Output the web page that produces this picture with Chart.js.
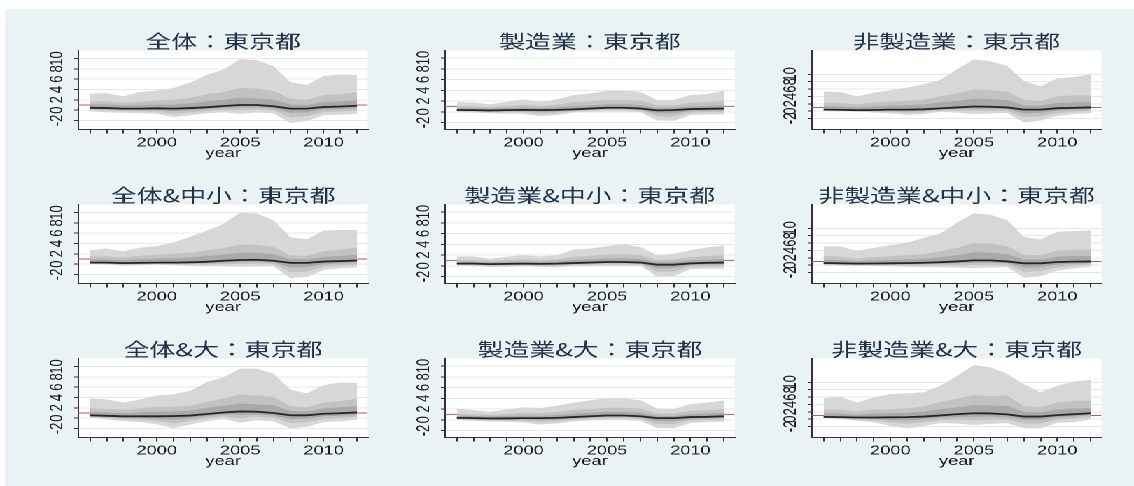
<!DOCTYPE html>
<html lang="ja">
<head>
<meta charset="utf-8">
<title>東京都 業種別・規模別 ファンチャート</title>
<script src="https://cdn.jsdelivr.net/npm/chart.js@4.4.1/dist/chart.umd.min.js"></script>
<style>
  html, body { margin: 0; padding: 0; background: #ffffff; width: 1134px; height: 486px; overflow: hidden; }
  #backdrop { position: absolute; left: 5px; top: 9px; width: 1129px; height: 477px; background: #eaf2f3; }
  #stage { position: absolute; left: 0; top: 0; width: 810px; height: 486px; transform: scaleX(1.4); transform-origin: 0 0; }
  #stage canvas { position: absolute; }
</style>
</head>
<body>
<div id="backdrop"></div>
<div id="stage"></div>
<script>
// ---- axes ----
const years = [1996, 1997, 1998, 1999, 2000, 2001, 2002, 2003, 2004, 2005, 2006, 2007, 2008, 2009, 2010, 2011, 2012];
const yTickValues = [-2, 0, 2, 4, 6, 8, 10];
const xLabelYears = [2000, 2005, 2010];
const refLevel = 1;
const xMin = 1995.3, xMax = 2012.65;

// ---- 全体：東京都 ----
const allMid      = [0.45, 0.40, 0.30, 0.30, 0.35, 0.30, 0.40, 0.55, 0.80, 1.00, 1.00, 0.75, 0.30, 0.30, 0.60, 0.70, 0.85];
const allInnerLo  = [0.24, 0.16, 0.06, 0.03, 0.04, -0.20, -0.02, 0.21, 0.44, 0.49, 0.57, 0.35, -0.54, -0.42, 0.12, 0.22, 0.39];
const allInnerHi  = [1.1, 1.1, 0.9, 1.0, 1.1, 1.1, 1.3, 1.7, 2.0, 2.4, 2.3, 2.0, 1.1, 1.0, 1.6, 1.7, 1.9];
const allMiddleLo = [0.03, -0.08, -0.18, -0.24, -0.28, -0.69, -0.44, -0.14, 0.08, -0.02, 0.13, -0.06, -1.38, -1.14, -0.36, -0.26, -0.08];
const allMiddleHi = [1.7, 1.7, 1.4, 1.6, 1.9, 2.0, 2.4, 3.1, 3.5, 4.3, 4.2, 3.7, 2.2, 2.0, 2.9, 3.1, 3.5];
const allOuterLo  = [-0.25, -0.40, -0.50, -0.60, -0.70, -1.35, -1.00, -0.60, -0.40, -0.70, -0.45, -0.60, -2.50, -2.10, -1.00, -0.90, -0.70];
const allOuterHi  = [3.2, 3.3, 2.7, 3.5, 3.8, 4.3, 5.3, 6.8, 7.9, 9.9, 9.7, 8.5, 5.4, 4.9, 6.6, 6.9, 6.8];

// ---- 製造業：東京都 ----
const mfgMid      = [0.33, 0.30, 0.25, 0.30, 0.35, 0.30, 0.35, 0.45, 0.60, 0.75, 0.75, 0.60, 0.26, 0.30, 0.50, 0.55, 0.60];
const mfgInnerLo  = [0.23, 0.17, 0.09, 0.11, 0.13, -0.03, 0.07, 0.27, 0.42, 0.56, 0.56, 0.39, -0.30, -0.30, 0.17, 0.24, 0.27];
const mfgInnerHi  = [0.7, 0.65, 0.6, 0.7, 0.8, 0.7, 0.8, 1.05, 1.2, 1.4, 1.4, 1.25, 0.7, 0.75, 1.0, 1.1, 1.2];
const mfgMiddleLo = [0.13, 0.03, -0.08, -0.09, -0.10, -0.36, -0.22, 0.09, 0.24, 0.36, 0.36, 0.18, -0.86, -0.90, -0.16, -0.08, -0.06];
const mfgMiddleHi = [1.1, 1.0, 0.9, 1.1, 1.3, 1.1, 1.3, 1.8, 1.9, 2.2, 2.2, 2.1, 1.2, 1.2, 1.7, 1.8, 2.0];
const mfgOuterLo  = [0.00, -0.15, -0.30, -0.35, -0.40, -0.80, -0.60, -0.15, 0.00, 0.10, 0.10, -0.10, -1.60, -1.70, -0.60, -0.50, -0.50];
const mfgOuterHi  = [1.85, 1.7, 1.4, 1.85, 2.3, 1.85, 2.3, 3.1, 3.4, 3.9, 3.9, 3.7, 2.2, 2.2, 3.1, 3.3, 3.9];

// ---- 非製造業：東京都 ----
const nonMfgMid      = [0.40, 0.35, 0.25, 0.30, 0.40, 0.40, 0.50, 0.75, 1.00, 1.25, 1.20, 1.00, 0.40, 0.40, 0.80, 0.90, 1.00];
const nonMfgInnerLo  = [0.31, 0.25, 0.15, 0.09, 0.09, -0.02, 0.11, 0.47, 0.58, 0.64, 0.65, 0.55, -0.65, -0.50, 0.17, 0.39, 0.55];
const nonMfgInnerHi  = [1.3, 1.25, 1.05, 1.3, 1.5, 1.6, 1.8, 2.4, 2.8, 3.4, 3.3, 3.0, 1.6, 1.5, 2.2, 2.4, 2.5];
const nonMfgMiddleLo = [0.22, 0.14, 0.04, -0.12, -0.23, -0.44, -0.28, 0.18, 0.16, 0.02, 0.09, 0.10, -1.70, -1.40, -0.46, -0.12, 0.10];
const nonMfgMiddleHi = [2.3, 2.2, 1.9, 2.3, 2.6, 2.8, 3.1, 4.1, 4.8, 5.9, 5.75, 5.3, 3.05, 2.8, 4.0, 4.3, 4.3];
const nonMfgOuterLo  = [0.10, 0.00, -0.10, -0.40, -0.65, -1.00, -0.80, -0.20, -0.40, -0.80, -0.65, -0.50, -3.10, -2.60, -1.30, -0.80, -0.50];
const nonMfgOuterHi  = [5.3, 5.2, 4.0, 5.0, 5.7, 6.4, 7.3, 8.5, 11.35, 14.1, 13.6, 12.3, 8.2, 6.8, 8.9, 9.3, 10.0];

// ---- 全体&中小：東京都 ----
const allSmeMid      = [0.30, 0.30, 0.20, 0.25, 0.30, 0.30, 0.35, 0.45, 0.65, 0.80, 0.85, 0.65, 0.25, 0.25, 0.50, 0.60, 0.70];
const allSmeInnerLo  = [0.21, 0.18, 0.05, 0.12, 0.17, 0.14, 0.14, 0.20, 0.34, 0.41, 0.46, 0.34, -0.64, -0.58, 0.02, 0.18, 0.31];
const allSmeInnerHi  = [0.95, 0.95, 0.8, 1.0, 1.1, 1.15, 1.3, 1.6, 1.85, 2.2, 2.2, 1.9, 1.0, 0.95, 1.4, 1.6, 1.8];
const allSmeMiddleLo = [0.12, 0.06, -0.10, -0.02, 0.03, -0.03, -0.07, -0.06, 0.02, 0.02, 0.07, 0.02, -1.52, -1.40, -0.46, -0.24, -0.08];
const allSmeMiddleHi = [1.5, 1.5, 1.3, 1.6, 1.85, 2.0, 2.2, 2.65, 3.1, 3.8, 3.7, 3.3, 1.7, 1.6, 2.5, 2.8, 3.2];
const allSmeOuterLo  = [0.00, -0.10, -0.30, -0.20, -0.15, -0.25, -0.35, -0.40, -0.40, -0.50, -0.45, -0.40, -2.70, -2.50, -1.10, -0.80, -0.60];
const allSmeOuterHi  = [2.7, 3.0, 2.5, 3.2, 3.5, 4.2, 5.3, 6.5, 7.8, 10.0, 9.8, 8.5, 5.2, 4.8, 6.5, 6.6, 6.6];

// ---- 製造業&中小：東京都 ----
const mfgSmeMid      = [0.40, 0.40, 0.30, 0.35, 0.40, 0.35, 0.40, 0.50, 0.60, 0.70, 0.70, 0.60, 0.20, 0.20, 0.45, 0.55, 0.60];
const mfgSmeInnerLo  = [0.30, 0.28, 0.14, 0.19, 0.25, 0.17, 0.21, 0.32, 0.41, 0.49, 0.49, 0.44, -0.46, -0.45, 0.14, 0.22, 0.26];
const mfgSmeInnerHi  = [0.75, 0.75, 0.6, 0.7, 0.8, 0.7, 0.8, 1.1, 1.2, 1.35, 1.4, 1.25, 0.65, 0.7, 1.0, 1.15, 1.25];
const mfgSmeMiddleLo = [0.20, 0.16, -0.03, 0.02, 0.10, -0.01, 0.01, 0.14, 0.21, 0.28, 0.28, 0.27, -1.12, -1.09, -0.18, -0.11, -0.09];
const mfgSmeMiddleHi = [1.1, 1.1, 0.9, 1.1, 1.2, 1.1, 1.2, 1.7, 1.85, 2.1, 2.2, 2.0, 1.1, 1.2, 1.6, 1.8, 2.0];
const mfgSmeOuterLo  = [0.06, 0.00, -0.25, -0.20, -0.10, -0.25, -0.25, -0.10, -0.05, 0.00, 0.00, 0.05, -2.00, -1.95, -0.60, -0.55, -0.55];
const mfgSmeOuterHi  = [1.75, 1.75, 1.3, 1.7, 1.95, 1.75, 1.95, 3.0, 3.2, 3.65, 4.0, 3.5, 1.95, 2.25, 2.9, 3.4, 3.8];

// ---- 非製造業&中小：東京都 ----
const nonMfgSmeMid      = [0.57, 0.50, 0.40, 0.45, 0.50, 0.55, 0.65, 0.80, 1.00, 1.30, 1.30, 1.00, 0.50, 0.50, 0.85, 0.95, 1.00];
const nonMfgSmeInnerLo  = [0.37, 0.31, 0.22, 0.23, 0.25, 0.25, 0.29, 0.38, 0.51, 0.67, 0.72, 0.55, -0.67, -0.55, 0.15, 0.40, 0.58];
const nonMfgSmeInnerHi  = [1.4, 1.35, 1.1, 1.3, 1.4, 1.55, 1.75, 2.2, 2.7, 3.5, 3.4, 3.0, 1.6, 1.5, 2.3, 2.5, 2.5];
const nonMfgSmeMiddleLo = [0.17, 0.11, 0.04, 0.00, -0.01, -0.05, -0.07, -0.04, 0.01, 0.04, 0.13, 0.10, -1.84, -1.60, -0.56, -0.16, 0.16];
const nonMfgSmeMiddleHi = [2.4, 2.3, 1.75, 2.2, 2.4, 2.7, 3.0, 3.8, 4.7, 6.1, 5.9, 5.15, 2.85, 2.7, 3.95, 4.2, 4.2];
const nonMfgSmeOuterLo  = [-0.10, -0.15, -0.20, -0.30, -0.35, -0.45, -0.55, -0.60, -0.65, -0.80, -0.65, -0.50, -3.40, -3.00, -1.50, -0.90, -0.40];
const nonMfgSmeOuterHi  = [5.15, 5.1, 3.8, 4.7, 5.4, 6.1, 7.4, 8.6, 11.6, 14.1, 13.7, 12.2, 7.7, 7.0, 9.1, 9.3, 9.45];

// ---- 全体&大：東京都 ----
const allLargeMid      = [0.55, 0.45, 0.35, 0.35, 0.35, 0.40, 0.50, 0.80, 1.10, 1.30, 1.25, 1.00, 0.55, 0.55, 0.85, 0.95, 1.10];
const allLargeInnerLo  = [0.40, 0.24, 0.07, 0.02, -0.12, -0.31, -0.01, 0.38, 0.73, 0.64, 0.76, 0.52, -0.20, -0.13, 0.37, 0.49, 0.68];
const allLargeInnerHi  = [1.2, 1.1, 0.95, 1.1, 1.25, 1.3, 1.45, 2.0, 2.4, 2.8, 2.7, 2.5, 1.4, 1.3, 1.9, 2.1, 2.4];
const allLargeMiddleLo = [0.25, 0.03, -0.22, -0.31, -0.58, -1.01, -0.52, -0.04, 0.35, -0.02, 0.26, 0.04, -0.95, -0.80, -0.11, 0.02, 0.26];
const allLargeMiddleHi = [1.9, 1.8, 1.6, 1.9, 2.2, 2.2, 2.4, 3.15, 3.8, 4.6, 4.4, 4.1, 2.35, 2.1, 3.0, 3.3, 3.8];
const allLargeOuterLo  = [0.05, -0.25, -0.60, -0.75, -1.20, -1.95, -1.20, -0.60, -0.15, -0.90, -0.40, -0.60, -1.95, -1.70, -0.75, -0.60, -0.30];
const allLargeOuterHi  = [3.8, 3.6, 3.0, 3.6, 4.4, 4.6, 5.3, 7.0, 7.9, 9.6, 9.6, 8.6, 5.5, 4.8, 6.4, 6.9, 6.8];

// ---- 製造業&大：東京都 ----
const mfgLargeMid      = [0.35, 0.30, 0.25, 0.25, 0.30, 0.30, 0.35, 0.50, 0.65, 0.80, 0.80, 0.65, 0.30, 0.30, 0.50, 0.55, 0.65];
const mfgLargeInnerLo  = [0.23, 0.15, 0.07, 0.06, 0.06, -0.06, 0.04, 0.26, 0.43, 0.56, 0.56, 0.40, -0.24, -0.27, 0.17, 0.25, 0.35];
const mfgLargeInnerHi  = [0.75, 0.7, 0.6, 0.7, 0.8, 0.75, 0.9, 1.15, 1.3, 1.5, 1.5, 1.3, 0.75, 0.7, 1.05, 1.15, 1.25];
const mfgLargeMiddleLo = [0.11, 0.00, -0.11, -0.14, -0.18, -0.42, -0.28, 0.02, 0.20, 0.32, 0.32, 0.14, -0.78, -0.84, -0.16, -0.05, 0.05];
const mfgLargeMiddleHi = [1.15, 1.05, 0.9, 1.1, 1.3, 1.25, 1.45, 1.85, 2.0, 2.25, 2.25, 2.05, 1.2, 1.15, 1.65, 1.8, 2.0];
const mfgLargeOuterLo  = [-0.05, -0.20, -0.35, -0.40, -0.50, -0.90, -0.70, -0.30, -0.10, 0.00, 0.00, -0.20, -1.50, -1.60, -0.60, -0.45, -0.35];
const mfgLargeOuterHi  = [2.0, 1.8, 1.5, 1.9, 2.3, 2.2, 2.6, 3.2, 3.6, 4.0, 4.0, 3.6, 2.1, 2.0, 2.9, 3.2, 3.6];

// ---- 非製造業&大：東京都 ----
const nonMfgLargeMid      = [0.60, 0.55, 0.45, 0.45, 0.50, 0.55, 0.70, 1.00, 1.35, 1.60, 1.55, 1.30, 0.70, 0.70, 1.10, 1.35, 1.60];
const nonMfgLargeInnerLo  = [0.56, 0.39, 0.18, 0.05, -0.19, -0.37, -0.05, 0.37, 0.59, 0.64, 0.70, 0.58, -0.25, -0.26, 0.47, 0.71, 1.09];
const nonMfgLargeInnerHi  = [1.6, 1.5, 1.2, 1.5, 1.6, 1.75, 2.0, 2.7, 3.2, 3.8, 3.7, 3.6, 2.0, 1.8, 2.6, 2.9, 3.0];
const nonMfgLargeMiddleLo = [0.51, 0.22, -0.09, -0.36, -0.88, -1.28, -0.80, -0.26, -0.18, -0.32, -0.16, -0.14, -1.19, -1.22, -0.16, 0.06, 0.58];
const nonMfgLargeMiddleHi = [2.7, 2.6, 2.0, 2.6, 2.7, 2.9, 3.45, 4.7, 5.6, 6.5, 6.3, 6.4, 3.6, 3.2, 4.5, 5.0, 5.0];
const nonMfgLargeOuterLo  = [0.45, 0.00, -0.45, -0.90, -1.80, -2.50, -1.80, -1.10, -1.20, -1.60, -1.30, -1.10, -2.45, -2.50, -1.00, -0.80, -0.10];
const nonMfgLargeOuterHi  = [5.7, 6.1, 4.5, 5.9, 6.8, 7.0, 7.3, 9.1, 11.8, 14.7, 14.1, 12.3, 9.5, 7.3, 9.1, 10.2, 10.7];

// ---- value-axis ranges per column ----
const yRangeAll = [-3.75, 11.55];
const yRangeMfg = [-3.3, 11.4];
const yRangeNonMfg = [-5.0, 16.5];

// ---- panel table ----
const panels = [
  { title: '全体：東京都',          row: 0, col: 0, range: yRangeAll,    mid: allMid,         inner: [allInnerLo, allInnerHi],               middle: [allMiddleLo, allMiddleHi],               outer: [allOuterLo, allOuterHi] },
  { title: '製造業：東京都',        row: 0, col: 1, range: yRangeMfg,    mid: mfgMid,         inner: [mfgInnerLo, mfgInnerHi],               middle: [mfgMiddleLo, mfgMiddleHi],               outer: [mfgOuterLo, mfgOuterHi] },
  { title: '非製造業：東京都',      row: 0, col: 2, range: yRangeNonMfg, mid: nonMfgMid,      inner: [nonMfgInnerLo, nonMfgInnerHi],         middle: [nonMfgMiddleLo, nonMfgMiddleHi],         outer: [nonMfgOuterLo, nonMfgOuterHi] },
  { title: '全体&中小：東京都',     row: 1, col: 0, range: yRangeAll,    mid: allSmeMid,      inner: [allSmeInnerLo, allSmeInnerHi],         middle: [allSmeMiddleLo, allSmeMiddleHi],         outer: [allSmeOuterLo, allSmeOuterHi] },
  { title: '製造業&中小：東京都',   row: 1, col: 1, range: yRangeMfg,    mid: mfgSmeMid,      inner: [mfgSmeInnerLo, mfgSmeInnerHi],         middle: [mfgSmeMiddleLo, mfgSmeMiddleHi],         outer: [mfgSmeOuterLo, mfgSmeOuterHi] },
  { title: '非製造業&中小：東京都', row: 1, col: 2, range: yRangeNonMfg, mid: nonMfgSmeMid,   inner: [nonMfgSmeInnerLo, nonMfgSmeInnerHi],   middle: [nonMfgSmeMiddleLo, nonMfgSmeMiddleHi],   outer: [nonMfgSmeOuterLo, nonMfgSmeOuterHi] },
  { title: '全体&大：東京都',       row: 2, col: 0, range: yRangeAll,    mid: allLargeMid,    inner: [allLargeInnerLo, allLargeInnerHi],     middle: [allLargeMiddleLo, allLargeMiddleHi],     outer: [allLargeOuterLo, allLargeOuterHi] },
  { title: '製造業&大：東京都',     row: 2, col: 1, range: yRangeMfg,    mid: mfgLargeMid,    inner: [mfgLargeInnerLo, mfgLargeInnerHi],     middle: [mfgLargeMiddleLo, mfgLargeMiddleHi],     outer: [mfgLargeOuterLo, mfgLargeOuterHi] },
  { title: '非製造業&大：東京都',   row: 2, col: 2, range: yRangeNonMfg, mid: nonMfgLargeMid, inner: [nonMfgLargeInnerLo, nonMfgLargeInnerHi], middle: [nonMfgLargeMiddleLo, nonMfgLargeMiddleHi], outer: [nonMfgLargeOuterLo, nonMfgLargeOuterHi] }
];

// ---- layout (the stage is widened 1.4x horizontally) ----
const STRETCH = 1.4;
const plotLefts = [79, 445.5, 812].map(v => v / STRETCH);
const plotWidth = 289.5 / STRETCH;
const plotTops = [50, 204, 358];
const AXIS_Y_W = 30, TITLE_H = 20, AXIS_X_H = 31.5;
const CANVAS_W = 241, CANVAS_H = 131;

const COLORS = {
  outer: '#d7d7d7', middle: '#c2c2c2', inner: '#a9a9a9', line: '#262626',
  ref: '#c9506e', grid: '#e1e9eb', axis: '#333333', text: '#1a1a1a', title: '#22324a'
};
const NUM_FONT = "'Liberation Sans', Arial, sans-serif";
const CJK_FONT = "'Noto Sans CJK JP', 'Noto Sans CJK SC', sans-serif";

// white plot region behind the data
const plotBackground = {
  id: 'plotBackground',
  beforeDraw(chart) {
    const { ctx, chartArea: a } = chart;
    ctx.save();
    ctx.fillStyle = '#ffffff';
    ctx.fillRect(a.left, a.top, a.right - a.left, a.bottom - a.top);
    ctx.restore();
  }
};

function pts(arr) { return years.map((yr, i) => ({ x: yr, y: arr[i] })); }

function bandPair(lo, hi, color, order) {
  return [
    { data: pts(hi), fill: '+1', backgroundColor: color, borderWidth: 0, pointRadius: 0, order },
    { data: pts(lo), fill: false, borderWidth: 0, pointRadius: 0, order }
  ];
}

const stage = document.getElementById('stage');

panels.forEach(p => {
  const canvas = document.createElement('canvas');
  canvas.width = CANVAS_W;
  canvas.height = CANVAS_H;
  canvas.style.left = (plotLefts[p.col] - AXIS_Y_W) + 'px';
  canvas.style.top = (plotTops[p.row] - TITLE_H) + 'px';
  stage.appendChild(canvas);

  new Chart(canvas, {
    type: 'line',
    data: {
      datasets: [
        { data: [{ x: xMin, y: refLevel }, { x: xMax, y: refLevel }], borderColor: COLORS.ref, borderWidth: 1, pointRadius: 0, fill: false, order: 9 },
        ...bandPair(p.outer[0], p.outer[1], COLORS.outer, 8),
        ...bandPair(p.middle[0], p.middle[1], COLORS.middle, 7),
        ...bandPair(p.inner[0], p.inner[1], COLORS.inner, 6),
        { data: pts(p.mid), borderColor: COLORS.line, borderWidth: 1.8, pointRadius: 0, fill: false, order: 1 }
      ]
    },
    options: {
      responsive: false,
      animation: false,
      devicePixelRatio: 2,
      events: [],
      layout: { padding: { top: 2, right: CANVAS_W - AXIS_Y_W - plotWidth, bottom: 0, left: 0 } },
      plugins: {
        legend: { display: false },
        tooltip: { enabled: false },
        title: {
          display: true, text: p.title, fullSize: false, color: COLORS.title,
          font: { family: CJK_FONT, size: 18.5, weight: 'normal', lineHeight: 1 }, padding: 0
        }
      },
      scales: {
        x: {
          type: 'linear', min: xMin, max: xMax,
          afterBuildTicks: s => { s.ticks = years.map(v => ({ value: v })); },
          afterFit: s => { s.height = AXIS_X_H; },
          grid: { display: true, drawOnChartArea: false, drawTicks: true, tickLength: 4, tickColor: COLORS.axis, tickWidth: 1 },
          border: { display: true, color: COLORS.axis, width: 1 },
          ticks: {
            autoSkip: false, minRotation: 0, maxRotation: 0, padding: 1.5, color: COLORS.text,
            font: { family: NUM_FONT, size: 13 },
            callback: v => xLabelYears.includes(v) ? String(v) : ''
          },
          title: { display: true, text: 'year', color: COLORS.text, font: { family: NUM_FONT, size: 13 }, padding: 0 }
        },
        y: {
          type: 'linear', min: p.range[0], max: p.range[1],
          afterBuildTicks: s => { s.ticks = yTickValues.map(v => ({ value: v })); },
          afterFit: s => { s.width = AXIS_Y_W; },
          grid: { color: COLORS.grid, lineWidth: 1, drawTicks: true, tickLength: 3, tickColor: COLORS.axis },
          border: { display: true, color: COLORS.axis, width: 1 },
          ticks: {
            autoSkip: false, minRotation: 90, maxRotation: 90, crossAlign: 'center', padding: 5,
            color: COLORS.text, font: { family: NUM_FONT, size: 13 }
          }
        }
      }
    },
    plugins: [plotBackground]
  });
});
</script>
</body>
</html>
